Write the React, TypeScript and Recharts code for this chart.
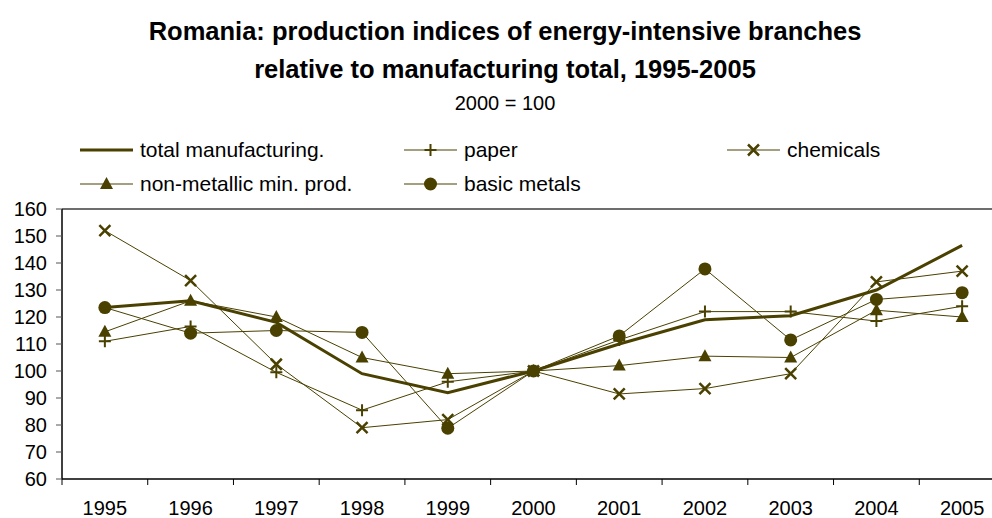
import { LineChart, Line, XAxis, YAxis, ReferenceLine } from 'recharts'

const years = ['1995', '1996', '1997', '1998', '1999', '2000', '2001', '2002', '2003', '2004', '2005']
const totalManufacturing = [123.5, 126, 118, 99, 92, 100, 110, 119, 120.5, 130, 146.5]
const paper = [111, 116.5, 99.5, 85.5, 96, 100, 111.5, 122, 122, 118.5, 124]
const chemicals = [152, 133.5, 102.5, 79, 82, 100, 91.5, 93.5, 99, 133, 137]
const nonMetallic = [114.5, 126, 120, 105, 99, 100, 102, 105.5, 105, 122.5, 120]
const basicMetals = [123.5, 114, 115, 114.3, 78.8, 100, 113, 137.8, 111.5, 126.5, 129]
const yTicks = [60, 70, 80, 90, 100, 110, 120, 130, 140, 150, 160]

const data = years.map((year, i) => ({
  year,
  total: totalManufacturing[i],
  paper: paper[i],
  chemicals: chemicals[i],
  nonMetallic: nonMetallic[i],
  basicMetals: basicMetals[i],
}))

const COLOR = '#4a4000'
const FONT = "'Liberation Sans', Arial, sans-serif"
const CHART_W = 1010
const CHART_H = 518
const Y_AXIS_W = 62
const X_AXIS_H = 39
const RIGHT = 5
const STEP = (CHART_W - Y_AXIS_W - RIGHT) / years.length
const AXIS_Y = CHART_H - X_AXIS_H

type Marker = 'none' | 'plus' | 'cross' | 'triangle' | 'circle'

function markerShape(kind: Marker, cx: number, cy: number, key?: string | number) {
  switch (kind) {
    case 'plus':
      return (
        <path key={key} d={`M${cx - 6},${cy}H${cx + 6}M${cx},${cy - 6}V${cy + 6}`} stroke={COLOR} strokeWidth={2} fill="none" />
      )
    case 'cross':
      return (
        <path key={key} d={`M${cx - 5.5},${cy - 5.5}L${cx + 5.5},${cy + 5.5}M${cx - 5.5},${cy + 5.5}L${cx + 5.5},${cy - 5.5}`} stroke={COLOR} strokeWidth={2.5} fill="none" />
      )
    case 'triangle':
      return <polygon key={key} points={`${cx},${cy - 7} ${cx - 6.5},${cy + 5} ${cx + 6.5},${cy + 5}`} fill={COLOR} />
    case 'circle':
      return <circle key={key} cx={cx} cy={cy} r={6.5} fill={COLOR} />
    default:
      return <g key={key} />
  }
}

const makeDot = (kind: Marker) => (props: any) => {
  const { cx, cy, index } = props
  if (cx == null || cy == null) return <g key={`${kind}-${index}`} />
  return markerShape(kind, cx, cy, `${kind}-${index}`)
}

function XTick(props: any) {
  const { x, payload, index } = props
  const last = index === years.length - 1
  return (
    <g>
      <line x1={x - STEP / 2} x2={x - STEP / 2} y1={AXIS_Y} y2={AXIS_Y + 6} stroke="#000" />
      {last && <line x1={x + STEP / 2} x2={x + STEP / 2} y1={AXIS_Y} y2={AXIS_Y + 6} stroke="#000" />}
      <text x={x} y={AXIS_Y + 36} textAnchor="middle" fontSize={20} fontFamily={FONT} fill="#000">
        {payload.value}
      </text>
    </g>
  )
}

const legendItems: { label: string; marker: Marker; thick?: boolean; left: number; top: number }[] = [
  { label: 'total manufacturing.', marker: 'none', thick: true, left: 80, top: 150 },
  { label: 'paper', marker: 'plus', left: 404, top: 150 },
  { label: 'chemicals', marker: 'cross', left: 727, top: 150 },
  { label: 'non-metallic min. prod.', marker: 'triangle', left: 80, top: 184 },
  { label: 'basic metals', marker: 'circle', left: 404, top: 184 },
]

function LegendBlock() {
  return (
    <>
      {legendItems.map((item) => (
        <div
          key={item.label}
          style={{ position: 'absolute', left: item.left, top: item.top - 13, height: 26, display: 'flex', alignItems: 'center' }}
        >
          <svg width={53} height={26} style={{ display: 'block' }}>
            <line x1={0} x2={53} y1={13} y2={13} stroke={COLOR} strokeWidth={item.thick ? 3 : 1.2} />
            {markerShape(item.marker, 26.5, 13)}
          </svg>
          <span style={{ marginLeft: 7, fontSize: 21, fontFamily: FONT, color: '#000', whiteSpace: 'nowrap' }}>{item.label}</span>
        </div>
      ))}
    </>
  )
}

export default function App() {
  return (
    <div style={{ position: 'fixed', left: 0, top: 0, width: 992, height: 518, overflow: 'hidden', background: '#fff' }}>
      <div style={{ position: 'absolute', left: 0, top: 0, width: CHART_W, height: CHART_H }}>
        <div style={{ position: 'absolute', left: 0, top: 12, width: CHART_W, textAlign: 'center', fontFamily: FONT, fontWeight: 'bold', fontSize: 25.5, lineHeight: '38px', color: '#000' }}>
          Romania: production indices of energy-intensive branches
          <br />
          relative to manufacturing total, 1995-2005
        </div>
        <div style={{ position: 'absolute', left: 0, top: 91, width: CHART_W, textAlign: 'center', fontFamily: FONT, fontSize: 20, lineHeight: '24px', color: '#000' }}>
          2000 = 100
        </div>
        <LegendBlock />
        <div style={{ position: 'absolute', left: 0, top: 0 }}>
          <LineChart width={CHART_W} height={CHART_H} data={data} margin={{ top: 209, right: RIGHT, left: 0, bottom: 0 }}>
            <XAxis
              dataKey="year"
              height={X_AXIS_H}
              padding={{ left: STEP / 2, right: STEP / 2 }}
              tickLine={false}
              axisLine={{ stroke: '#000', strokeWidth: 1.5 }}
              tick={<XTick />}
              interval={0}
            />
            <YAxis
              domain={[60, 160]}
              ticks={yTicks}
              width={Y_AXIS_W}
              tickSize={6}
              tickMargin={9}
              axisLine={{ stroke: '#000', strokeWidth: 1.5 }}
              tickLine={{ stroke: '#555' }}
              tick={{ fontSize: 20, fontFamily: FONT, fill: '#000' }}
              interval={0}
            />
            <ReferenceLine y={160} stroke="#3c3c3c" strokeWidth={1.5} />
            <Line dataKey="total" stroke={COLOR} strokeWidth={3} dot={false} isAnimationActive={false} />
            <Line dataKey="paper" stroke={COLOR} strokeWidth={1} dot={makeDot('plus')} isAnimationActive={false} />
            <Line dataKey="chemicals" stroke={COLOR} strokeWidth={1} dot={makeDot('cross')} isAnimationActive={false} />
            <Line dataKey="nonMetallic" stroke={COLOR} strokeWidth={1} dot={makeDot('triangle')} isAnimationActive={false} />
            <Line dataKey="basicMetals" stroke={COLOR} strokeWidth={1} dot={makeDot('circle')} isAnimationActive={false} />
          </LineChart>
        </div>
      </div>
    </div>
  )
}
